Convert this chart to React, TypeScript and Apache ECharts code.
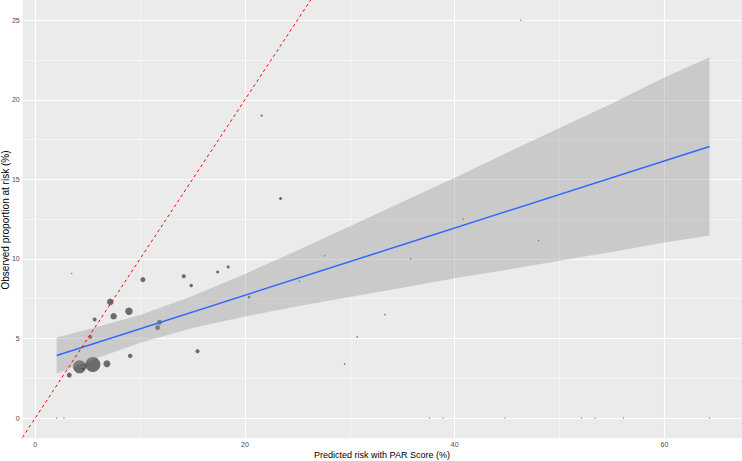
import React, { useEffect, useRef } from "react";
import * as echarts from "echarts";

// Study-level points: predicted risk (x), observed proportion (y), relative study size (w)
const predictedRisk = [
  5.5, 4.24, 4.56, 6.84, 3.25, 9.06, 5.25, 5.67, 7.16, 7.48, 8.94, 10.27, 11.67, 11.86,
  14.17, 14.88, 15.48, 17.4, 18.4, 20.4, 21.6, 23.4, 25.2, 27.6, 29.5, 30.7, 33.35, 35.8,
  40.8, 48.0, 46.3, 3.48, 2.05, 2.74, 37.6, 38.9, 44.8, 52.1, 53.4, 56.1, 64.3,
];
const observedRisk = [
  3.37, 3.22, 3.1, 3.41, 2.7, 3.91, 5.1, 6.19, 7.3, 6.4, 6.71, 8.7, 5.69, 6.02,
  8.91, 8.33, 4.2, 9.18, 9.5, 7.6, 19.0, 13.8, 8.6, 10.2, 3.4, 5.1, 6.5, 10.0,
  12.5, 11.15, 25.0, 9.08, 0, 0, 0, 0, 0, 0, 0, 0, 0,
];
const studySize = [
  900, 676, 9, 196, 100, 81, 64, 64, 169, 169, 225, 100, 100, 100,
  64, 49, 64, 36, 36, 25, 16, 36, 9, 9, 9, 9, 9, 9,
  9, 9, 6, 6, 6, 6, 6, 6, 6, 6, 6, 6, 6,
];

// Fitted regression line and its confidence band
const fitX = [2.05, 64.3];
const fitY = [3.93, 17.07];
const bandX = [2.05, 5, 10, 15, 20, 25, 30, 35, 40, 45, 50, 55, 60, 64.3];
const bandUpper = [5.06, 5.57, 6.48, 7.67, 9.06, 10.53, 12.05, 13.58, 15.1, 16.67, 18.22, 19.77, 21.4, 22.67];
const bandLower = [2.8, 3.55, 4.74, 5.66, 6.38, 7.02, 7.61, 8.19, 8.78, 9.32, 9.88, 10.44, 11.03, 11.47];

// Identity line (y = x)
const identity = [-5, 30];

// Axis ticks and titles
const xTicks = [0, 20, 40, 60];
const xMinor = [10, 30, 50];
const yTicks = [0, 5, 10, 15, 20, 25];
const yMinor = [2.5, 7.5, 12.5, 17.5, 22.5];
const xTitle = "Predicted risk with PAR Score (%)";
const yTitle = "Observed proportion at risk (%)";

const FONT = "'Liberation Sans', Arial, sans-serif";

export default function App() {
  const ref = useRef<HTMLDivElement>(null);

  useEffect(() => {
    if (!ref.current) return;
    const chart = echarts.init(ref.current, undefined, { renderer: "svg" });

    const scatterData = predictedRisk.map((x, i) => [x, observedRisk[i], studySize[i]]);

    const gridLines: any[] = [
      ...xMinor.map((v) => ({ xAxis: v, lineStyle: { width: 0.5 } })),
      ...yMinor.map((v) => ({ yAxis: v, lineStyle: { width: 0.5 } })),
      ...xTicks.map((v) => ({ xAxis: v, lineStyle: { width: 1.1 } })),
      ...yTicks.map((v) => ({ yAxis: v, lineStyle: { width: 1.1 } })),
    ];

    chart.setOption({
      animation: false,
      backgroundColor: "#FFFFFF",
      textStyle: { fontFamily: FONT },
      grid: {
        left: 22.7,
        right: 0,
        top: 0,
        bottom: 22.7,
        show: true,
        backgroundColor: "#EBEBEB",
        borderWidth: 0,
        containLabel: false,
        outerBoundsMode: "none",
      },
      graphic: [
        {
          type: "text",
          x: 382,
          y: 455,
          silent: true,
          style: {
            text: xTitle,
            fill: "#000000",
            font: `9px ${FONT}`,
            align: "center",
            verticalAlign: "middle",
          },
        },
        {
          type: "text",
          x: 5.5,
          y: 220,
          rotation: Math.PI / 2,
          silent: true,
          style: {
            text: yTitle,
            fill: "#000000",
            font: `10px ${FONT}`,
            align: "center",
            verticalAlign: "middle",
          },
        },
      ],
      xAxis: {
        type: "value",
        min: -1.19,
        max: 67.4,
        axisLine: { show: false },
        axisTick: {
          show: true,
          customValues: xTicks,
          length: 2.5,
          lineStyle: { color: "#333333", width: 1 },
        },
        axisLabel: {
          customValues: xTicks,
          color: "#4D4D4D",
          fontSize: 7,
          margin: 3,
          fontFamily: FONT,
        },
        splitLine: { show: false },
      },
      yAxis: {
        type: "value",
        min: -1.27,
        max: 26.27,
        axisLine: { show: false },
        axisTick: {
          show: true,
          customValues: yTicks,
          length: 2.5,
          lineStyle: { color: "#333333", width: 1 },
        },
        axisLabel: {
          customValues: yTicks,
          color: "#4D4D4D",
          fontSize: 7,
          margin: 3,
          fontFamily: FONT,
        },
        splitLine: { show: false },
      },
      series: [
        {
          type: "line",
          data: [[-100, -100]],
          symbol: "none",
          silent: true,
          lineStyle: { opacity: 0 },
          z: 1,
          markLine: {
            z: 1,
            silent: true,
            symbol: "none",
            label: { show: false },
            lineStyle: { color: "#FFFFFF", type: "solid" },
            data: gridLines,
          },
        },
        {
          type: "scatter",
          data: scatterData,
          symbolSize: (v: number[]) => Math.sqrt(v[2]) / 2,
          itemStyle: { color: "rgba(0,0,0,0.68)" },
          z: 3,
          silent: true,
        },
        {
          type: "custom",
          data: [[bandX[0], bandUpper[0]]],
          z: 4,
          silent: true,
          renderItem: (params: any, api: any) => {
            const pts: number[][] = [];
            for (let i = 0; i < bandX.length; i++) pts.push(api.coord([bandX[i], bandUpper[i]]));
            for (let i = bandX.length - 1; i >= 0; i--) pts.push(api.coord([bandX[i], bandLower[i]]));
            return {
              type: "polygon",
              shape: { points: pts },
              style: { fill: "rgba(153,153,153,0.4)", stroke: "none" },
            };
          },
        },
        {
          type: "line",
          data: fitX.map((x, i) => [x, fitY[i]]),
          symbol: "none",
          silent: true,
          lineStyle: { color: "#3366FF", width: 1.5 },
          z: 5,
        },
        {
          type: "line",
          data: identity.map((v) => [v, v]),
          symbol: "none",
          silent: true,
          clip: true,
          lineStyle: { color: "#FF0000", width: 1, type: [3, 3] },
          z: 6,
        },
      ],
    });

    return () => chart.dispose();
  }, []);

  return (
    <div
      ref={ref}
      style={{ position: "fixed", left: 0, top: 0, width: 742, height: 461, background: "#FFFFFF" }}
    />
  );
}
